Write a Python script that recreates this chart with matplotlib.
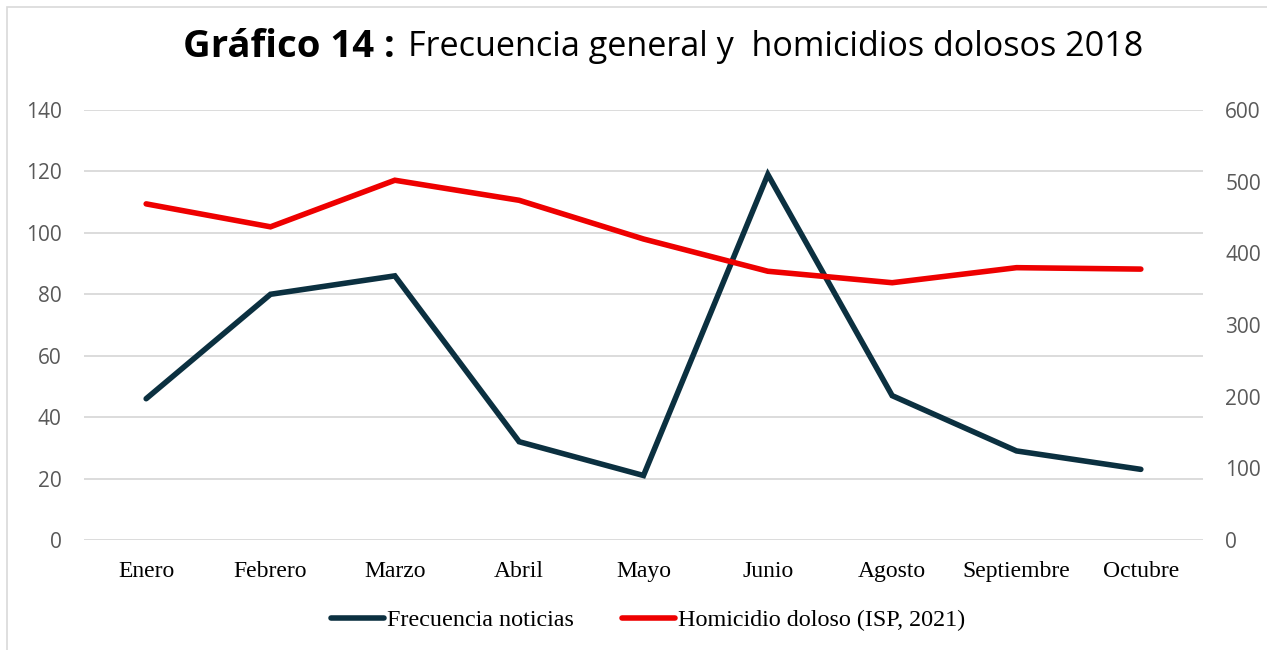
import matplotlib.pyplot as plt
from matplotlib.patches import Rectangle

meses = ["Enero", "Febrero", "Marzo", "Abril", "Mayo", "Junio", "Agosto", "Septiembre", "Octubre"]
frecuencia_noticias = [46, 80, 86, 32, 21, 119, 47, 29, 23]
homicidio_doloso = [469, 437, 502, 474, 420, 375, 359, 380, 378]

azul = "#0b3040"
rojo = "#ee0000"
gris_txt = "#595959"

fig = plt.figure(figsize=(12.67, 6.5), dpi=100)
ax = fig.add_axes([84 / 1267, 1 - 540 / 650, (1203 - 84) / 1267, 430 / 650])
ax2 = ax.twinx()

x = list(range(len(meses)))
l1, = ax.plot(x, frecuencia_noticias, color=azul, lw=4, solid_joinstyle="miter",
              solid_capstyle="round", label="Frecuencia noticias", zorder=3)
l2, = ax2.plot(x, homicidio_doloso, color=rojo, lw=4, solid_joinstyle="miter",
               solid_capstyle="round", label="Homicidio doloso (ISP, 2021)", zorder=3)

ax.set_xlim(-0.5, len(meses) - 0.5)
ax.set_ylim(0, 140)
ax2.set_ylim(0, 600)
ax.set_yticks(range(0, 141, 20))
ax2.set_yticks(range(0, 601, 100))
ax.yaxis.grid(True, color="#d9d9d9", lw=1.3)
ax.set_axisbelow(True)

for a in (ax, ax2):
    for s in a.spines.values():
        s.set_visible(False)
    a.tick_params(length=0)

ax.set_xticks(x)
ax.set_xticklabels(meses, family="Liberation Serif", fontsize=17, color="black")
ax.tick_params(axis="x", pad=15)
for lab in ax.get_yticklabels() + ax2.get_yticklabels():
    lab.set_family("Open Sans")
    lab.set_fontsize(15)
    lab.set_color(gris_txt)
ax.tick_params(axis="y", pad=16)
ax2.tick_params(axis="y", pad=16)

# titulo
fig.text(183 / 1267, 1 - 47 / 650, "Gráfico 14 :", family="Open Sans", fontweight="bold",
         fontsize=27.5, va="center", ha="left")
fig.text(408 / 1267, 1 - 47 / 650, "Frecuencia general y  homicidios dolosos 2018",
         family="Open Sans", fontsize=24.6, va="center", ha="left")

fig.legend(handles=[l1, l2], loc="center", bbox_to_anchor=(648 / 1267, 1 - 620 / 650), ncol=2,
           frameon=False, prop={"family": "Liberation Serif", "size": 17.4},
           handlelength=2.2, handletextpad=0.12, columnspacing=2.0)

# borde del grafico
fig.patches.append(Rectangle((7 / 1267, -0.01), 1.2, 1 - 7 / 650 + 0.01, transform=fig.transFigure,
                             fill=False, edgecolor="#d9d9d9", lw=1.2))

fig.savefig("out.png", dpi=100)
